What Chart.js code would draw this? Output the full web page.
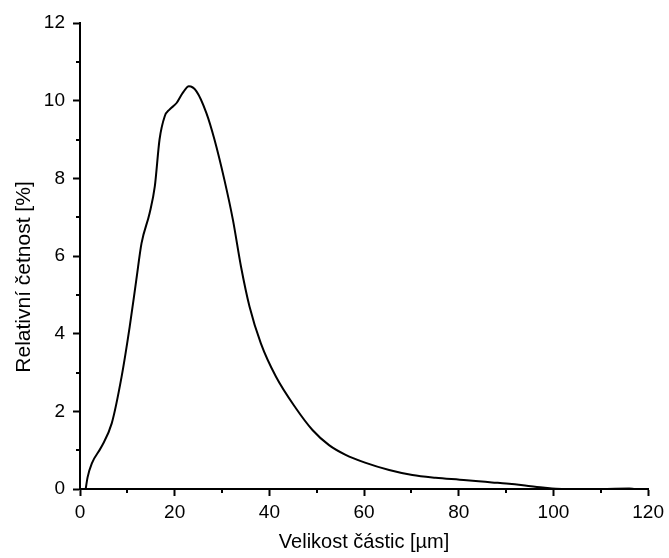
<!DOCTYPE html>
<html>
<head>
<meta charset="utf-8">
<script src="https://cdn.jsdelivr.net/npm/chart.js@4.4.1/dist/chart.umd.min.js"></script>
<style>
  html, body { margin: 0; padding: 0; background: #fff; }
  #chart { display: block; }
</style>
</head>
<body>
<canvas id="chart" width="669" height="558"></canvas>
<script>
// particle size [um] and relative frequency [%]
const sizes = [1.2, 1.6, 2.5, 4.5, 6.7, 8.8, 10.5, 11.9, 13.0, 14.7, 15.8, 16.8, 17.9, 18.9, 20.4,
  21.7, 23.0, 24.6, 26.7, 28.4, 30.5, 32.3, 34.0, 35.8, 38.2, 41.4, 45.6, 49.1, 52.6, 56.1,
  60.2, 65.3, 70.2, 75.1, 80.2, 84.2, 87.0, 90.0, 94.0, 98.2, 101.8, 110.0, 116.0, 117.0];
const freq = [0, 0.3, 0.66, 1.08, 1.69, 2.9, 4.18, 5.39, 6.33, 7.1, 7.79, 9.0, 9.6, 9.77, 9.94,
  10.2, 10.37, 10.24, 9.68, 9.0, 7.96, 6.93, 5.73, 4.7, 3.75, 2.89, 2.08, 1.52, 1.13, 0.88,
  0.68, 0.49, 0.36, 0.29, 0.24, 0.2, 0.17, 0.14, 0.09, 0.03, 0, 0, 0.01, 0];

const xTitle = 'Velikost částic [µm]';
const yTitle = 'Relativní četnost [%]';

const FONT = 'Liberation Sans, Arial, sans-serif';

// small ticks between the labelled ones, and the y title (sits a bit low in the original)
const extras = {
  id: 'extras',
  afterDraw(chart) {
    const ctx = chart.ctx;
    const x = chart.scales.x, y = chart.scales.y;
    ctx.save();
    ctx.strokeStyle = '#000';
    ctx.lineWidth = 2;
    ctx.beginPath();
    for (let v = 10; v < 120; v += 20) {
      const px = Math.round(x.getPixelForValue(v));
      ctx.moveTo(px, y.bottom);
      ctx.lineTo(px, y.bottom + 4);
    }
    for (let v = 1; v < 12; v += 2) {
      const py = Math.round(y.getPixelForValue(v));
      ctx.moveTo(x.left, py);
      ctx.lineTo(x.left - 4, py);
    }
    ctx.stroke();

    ctx.translate(24, 277);
    ctx.rotate(-Math.PI / 2);
    ctx.fillStyle = '#000';
    ctx.font = '21px ' + FONT;
    ctx.textAlign = 'center';
    ctx.textBaseline = 'middle';
    ctx.fillText(yTitle, 0, 0);
    ctx.restore();
  }
};

new Chart(document.getElementById('chart').getContext('2d'), {
  type: 'scatter',
  data: {
    datasets: [{
      data: sizes.map((s, i) => ({ x: s, y: freq[i] })),
      showLine: true,
      borderColor: '#000',
      borderWidth: 2,
      pointRadius: 0,
      cubicInterpolationMode: 'monotone',
      clip: false
    }]
  },
  options: {
    responsive: false,
    animation: false,
    layout: { padding: { top: 23, right: 18, left: 0, bottom: 0 } },
    plugins: { legend: { display: false }, tooltip: { enabled: false } },
    scales: {
      x: {
        type: 'linear',
        min: 0, max: 120,
        afterFit(scale) { scale.height = 69; },
        border: { display: true, color: '#000', width: 2 },
        grid: { display: true, drawOnChartArea: false, drawTicks: true, tickLength: 7, tickColor: '#000', tickWidth: 2 },
        ticks: { stepSize: 20, color: '#000', padding: 5, maxRotation: 0, font: { family: FONT, size: 19 } },
        title: { display: true, text: xTitle, color: '#000', font: { family: FONT, size: 20 }, padding: { top: 0, bottom: 4 } }
      },
      y: {
        min: 0, max: 12,
        afterFit(scale) { scale.width = 80; },
        border: { display: true, color: '#000', width: 2 },
        grid: { display: true, drawOnChartArea: false, drawTicks: true, tickLength: 7, tickColor: '#000', tickWidth: 2 },
        ticks: { stepSize: 2, color: '#000', padding: 8, font: { family: FONT, size: 19 } },
        title: { display: false }
      }
    }
  },
  plugins: [extras]
});
</script>
</body>
</html>
